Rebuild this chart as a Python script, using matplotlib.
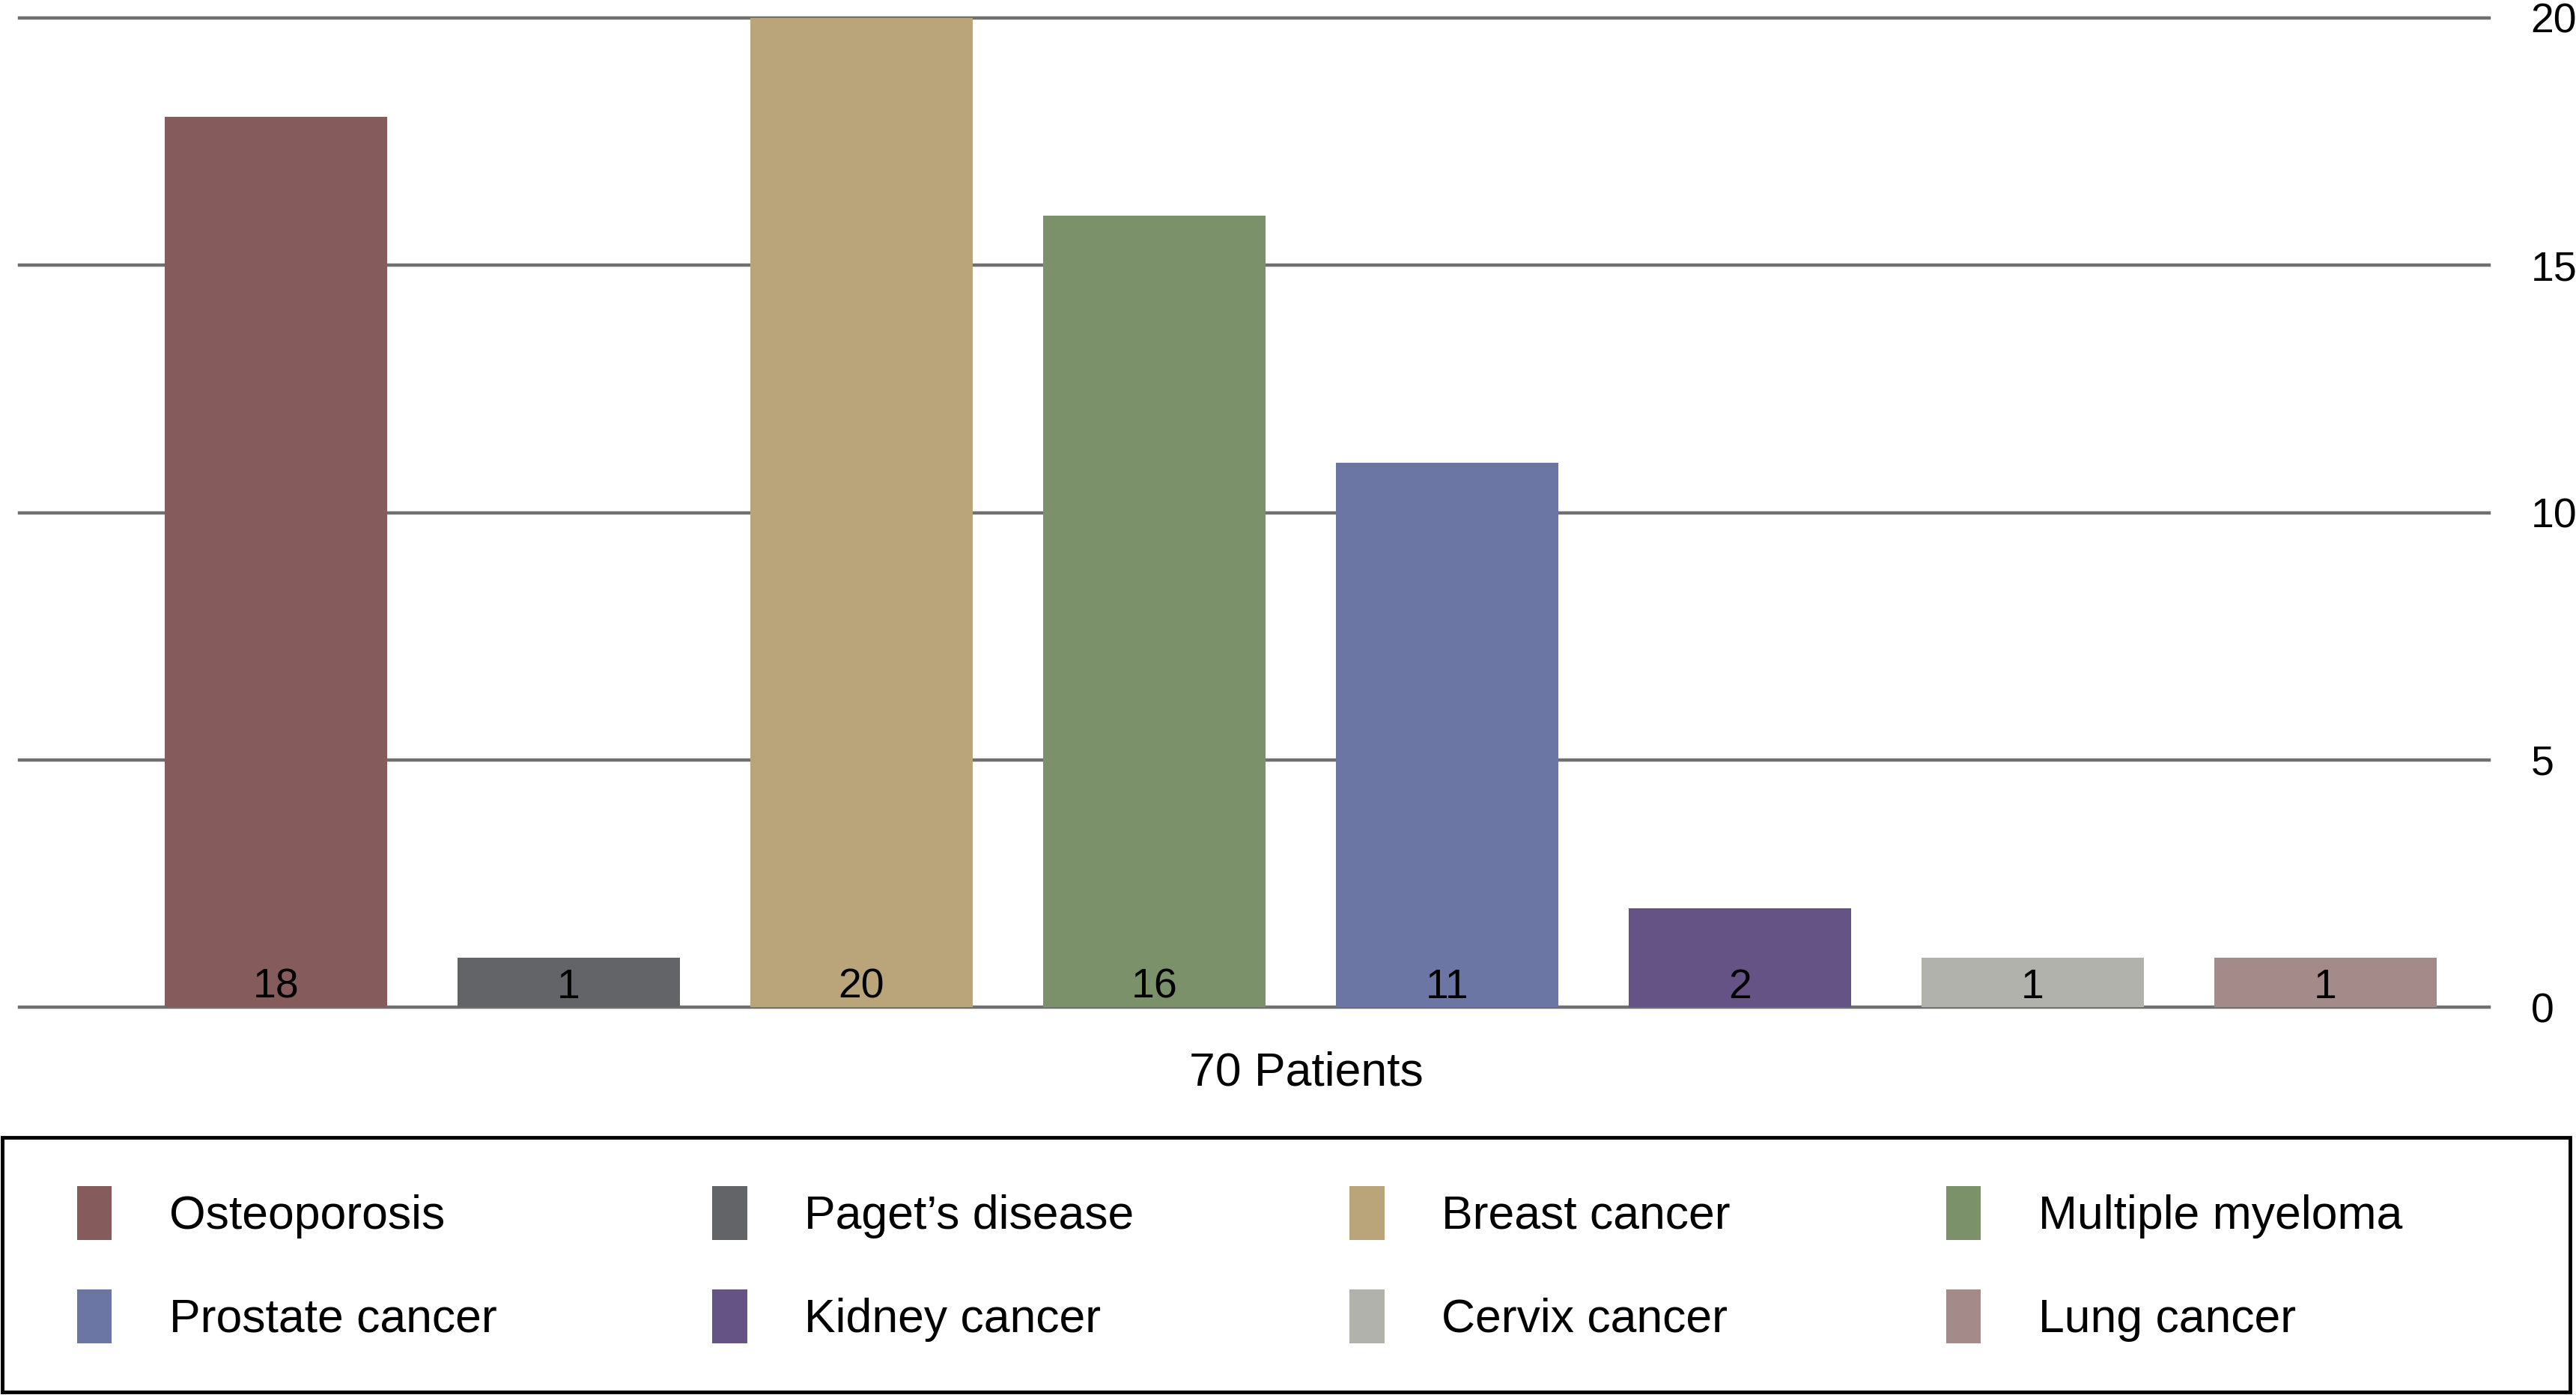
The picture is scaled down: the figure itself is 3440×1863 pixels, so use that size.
import matplotlib
matplotlib.use("Agg")
import matplotlib.pyplot as plt
from matplotlib.patches import Rectangle, Patch

categories = ["Osteoporosis", "Paget\u2019s disease", "Breast cancer", "Multiple myeloma",
              "Prostate cancer", "Kidney cancer", "Cervix cancer", "Lung cancer"]
values = [18, 1, 20, 16, 11, 2, 1, 1]
colors = ["#855B5C", "#636467", "#BAA57A", "#7A9169",
          "#6B76A5", "#655386", "#B1B2AC", "#A58A8A"]
yticks = [0, 5, 10, 15, 20]
xlabel_text = "70 Patients"

plt.rcParams['font.family'] = ['Liberation Sans', 'DejaVu Sans']

W, H = 3440, 1863
fig = plt.figure(figsize=(W / 100, H / 100), dpi=100)
ax = fig.add_axes([26 / W, 1 - 1345 / H, (3324 - 26) / W, (1345 - 24) / H])

x = list(range(len(values)))
ax.bar(x, values, width=0.76, color=colors, zorder=3)
for xi, v in zip(x, values):
    ax.text(xi, 0.40, str(v), ha='center', va='center', fontsize=40, color='black', zorder=4)

ax.set_xlim(-0.876, 7.56)
ax.set_ylim(0, 20)
ax.set_yticks(yticks)
ax.yaxis.tick_right()
ax.tick_params(axis='y', length=0, pad=40, labelsize=40)
ax.set_xticks([])
for s in ax.spines.values():
    s.set_visible(False)
ax.grid(axis='y', color='#707070', linewidth=3.2, zorder=0)
ax.set_axisbelow(True)
for gl in ax.get_ygridlines():
    gl.set_clip_on(False)

fig.text(1744 / W, 1 - 1433 / H, xlabel_text, ha='center', va='center', fontsize=45)

# legend frame
fig.add_artist(Rectangle((3 / W, 4 / H), (3432 - 3) / W, (1858 - 1518) / H,
                         transform=fig.transFigure, fill=False, edgecolor='black', linewidth=3.5))

ncol = 4
nrow = 2
order = [r * ncol + c for c in range(ncol) for r in range(nrow)]
handles = [Patch(facecolor=colors[i], edgecolor='none') for i in order]
labels = [categories[i] for i in order]
leg = fig.legend(handles, labels, ncol=ncol, loc='upper left',
                 bbox_to_anchor=(103 / W, 1 - 1584 / H), frameon=False, fontsize=45,
                 handlelength=0.74, handleheight=1.4, handletextpad=1.23,
                 columnspacing=4.6, labelspacing=1.05, borderpad=0, borderaxespad=0)

fig.savefig("out.png", dpi=100, facecolor='white')
